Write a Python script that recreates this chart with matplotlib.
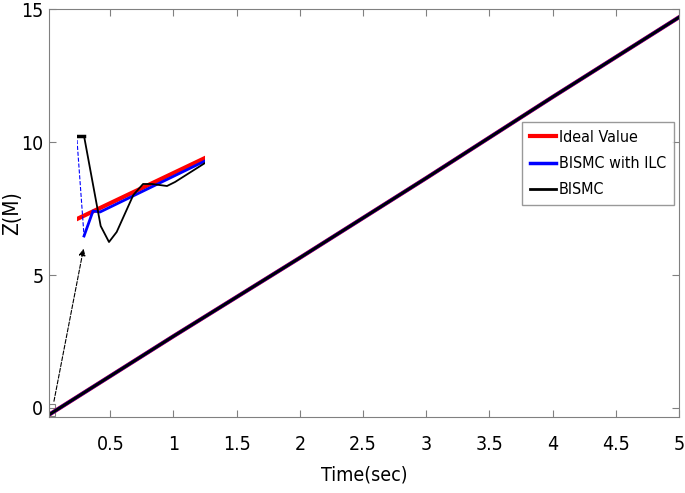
import numpy as np
import matplotlib.pyplot as plt
from matplotlib.patches import Rectangle

plt.rcParams['font.family'] = ['DejaVu Sans']
plt.rcParams['font.stretch'] = 'condensed'

# main trajectory (all three curves overlap at this scale)
time = [0.0, 1.0, 2.0, 3.0, 4.0, 5.0]
z_ideal = [-0.3, 2.7, 5.65, 8.65, 11.7, 14.7]
z_ilc = [-0.3, 2.7, 5.65, 8.65, 11.7, 14.7]
z_bismc = [-0.3, 2.7, 5.65, 8.65, 11.7, 14.7]

# zoomed start-up segment (inset)
t_zoom_ideal = [0.0, 0.1]
z_zoom_ideal = [-0.29, 0.32]
t_zoom_ilc = [0.0, 0.0055, 0.0125, 0.018, 0.1]
z_zoom_ilc = [0.50, -0.46, -0.21, -0.22, 0.29]
t_zoom_bismc = [0.0, 0.0055, 0.0185, 0.025, 0.031, 0.044, 0.0516, 0.0586, 0.0703, 0.0766, 0.1]
z_zoom_bismc = [0.54, 0.54, -0.36, -0.52, -0.42, -0.05, 0.06, 0.06, 0.04, 0.08, 0.27]

fig = plt.figure(figsize=(6.85, 4.93), dpi=100)
ax = fig.add_axes([49 / 685, 1 - 417 / 493, (679 - 49) / 685, (417 - 9.3) / 493])

ax.plot(time, z_ideal, color='red', lw=3, label='Ideal Value')
ax.plot(time, z_ilc, color='blue', lw=2.5, label='BISMC with ILC')
ax.plot(time, z_bismc, color='black', lw=2, label='BISMC')

ax.set_xlim(0.015, 5.0)
ax.set_ylim(-0.34, 15)
ax.set_xticks([0.5, 1, 1.5, 2, 2.5, 3, 3.5, 4, 4.5, 5])
ax.set_xticklabels(['0.5', '1', '1.5', '2', '2.5', '3', '3.5', '4', '4.5', '5'])
ax.set_yticks([0, 5, 10, 15])
ax.tick_params(direction='in', top=True, right=True, labelsize=14, color='#808080', length=5)
ax.tick_params(axis='x', pad=13)
ax.tick_params(axis='y', pad=4)
for s in ax.spines.values():
    s.set_color('#808080')
ax.set_xlabel('Time(sec)', fontsize=14)
ax.xaxis.set_label_coords(0.5, -0.12)
ax.set_ylabel('Z(M)', fontsize=15)
ax.yaxis.set_label_coords(-0.042, 0.5)

leg = ax.legend(loc='upper right', bbox_to_anchor=(674 / 685, 1 - 122 / 493), bbox_transform=fig.transFigure,
                fontsize=11.5, frameon=True, fancybox=False, handlelength=1.6, handletextpad=0.2,
                borderpad=0.5, labelspacing=0.7, borderaxespad=0)
leg.get_frame().set_edgecolor('#808080')
leg.get_frame().set_linewidth(1.0)

# small zoom box near origin
ax.add_patch(Rectangle((0.015, -0.3), 0.05, 0.45, fill=False, ec='#808080', lw=0.8))

# inset with start-up behaviour
axins = fig.add_axes([77 / 685, 1 - 250 / 493, 128 / 685, 120 / 493])
axins.plot(t_zoom_ideal, z_zoom_ideal, color='red', lw=3)
axins.plot(t_zoom_ilc[:2], z_zoom_ilc[:2], color='blue', lw=0.8, ls='--')
axins.plot(t_zoom_ilc[1:], z_zoom_ilc[1:], color='blue', lw=2)
axins.plot(t_zoom_bismc[:2], z_zoom_bismc[:2], color='black', lw=2.5)
axins.plot(t_zoom_bismc[1:], z_zoom_bismc[1:], color='black', lw=1.3)
axins.set_xlim(0, 0.1)
axins.set_ylim(-0.6, 0.6)
axins.axis('off')

ax.annotate('', xy=(0.0055, -0.56), xycoords=axins.transData,
            xytext=(0.05, 0.15), textcoords=ax.transData,
            arrowprops=dict(arrowstyle='-|>', ls='--', lw=0.8, color='black', mutation_scale=10))

fig.savefig('out.png', dpi=100)
